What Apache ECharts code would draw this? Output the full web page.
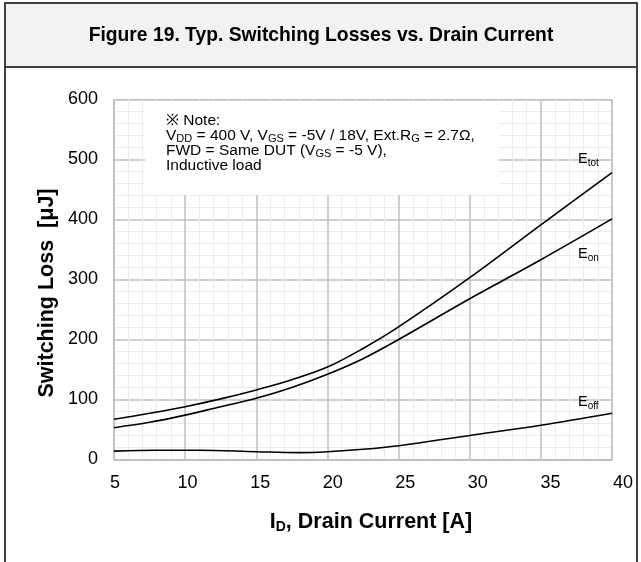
<!DOCTYPE html>
<html>
<head>
<meta charset="utf-8">
<script src="https://cdn.jsdelivr.net/npm/echarts@6/dist/echarts.min.js"></script>
<style>
  html, body { margin: 0; padding: 0; background: #ffffff; }
  #chart { width: 641px; height: 562px; }
</style>
</head>
<body>
<div id="chart"></div>
<script>
// drain current [A]
const currentTot = [5, 7.5, 10, 12.5, 15, 17.5, 20, 22.5, 25, 30, 35, 40]
const eTot = [67, 77, 88, 101, 116, 133, 154, 185, 221, 303, 391, 478]
const eOn = [53, 62, 74, 88, 102, 120, 142, 168, 200, 268, 333, 401]
const currentOff = [5, 8, 11, 15, 18, 20, 22.5, 25, 30, 35, 40]
const eOff = [14, 15.5, 15.5, 13, 11.5, 13, 17, 23, 40, 57, 77]

const xTicks = [5, 10, 15, 20, 25, 30, 35, 40]
const yTicks = [0, 100, 200, 300, 400, 500, 600]

const font = 'Liberation Sans, Arial, sans-serif'
const pairs = (xs, ys) => xs.map((x, i) => [x, ys[i]])

const lineSeries = (name, data) => ({
  name,
  type: 'line',
  data,
  smooth: 0.35,
  showSymbol: false,
  lineStyle: { color: '#000000', width: 1.6 },
  z: 3
})

const chart = echarts.init(document.getElementById('chart'))

const sub = { fontSize: 10, fontFamily: font, color: '#000', padding: [8, 0, 0, 0] }

chart.setOption({
  animation: false,
  grid: [
    { left: 114, right: 29, top: 99.5, bottom: 102.5, show: true, borderColor: '#bfbfbf', borderWidth: 1 },
    // the printed tick labels sit a little wider than the gridlines
    { left: 115, right: 18, top: 99.5, bottom: 102.5, show: false }
  ],
  xAxis: [
    {
      type: 'value',
      gridIndex: 0,
      min: xTicks[0],
      max: xTicks[xTicks.length - 1],
      interval: 5,
      axisLine: { show: true, lineStyle: { color: '#bfbfbf', width: 1.5 } },
      axisTick: { show: false },
      axisLabel: { show: false },
      splitLine: { show: true, lineStyle: { color: '#bfbfbf', width: 1.5 } },
      minorTick: { show: false, splitNumber: 5 },
      minorSplitLine: { show: true, lineStyle: { color: '#ebebeb', width: 1 } }
    },
    {
      type: 'value',
      gridIndex: 1,
      min: xTicks[0],
      max: xTicks[xTicks.length - 1],
      interval: 5,
      axisLine: { show: false },
      axisTick: { show: false },
      axisLabel: { color: '#000', fontSize: 18, fontFamily: font, margin: 15 },
      splitLine: { show: false }
    }
  ],
  yAxis: [
    {
      type: 'value',
      gridIndex: 0,
      min: yTicks[0],
      max: yTicks[yTicks.length - 1],
      interval: 100,
      axisLine: { show: true, lineStyle: { color: '#bfbfbf', width: 1.5 } },
      axisTick: { show: false },
      axisLabel: { color: '#000', fontSize: 18, fontFamily: font, margin: 16 },
      splitLine: { show: true, lineStyle: { color: '#bfbfbf', width: 1.5 } },
      minorTick: { show: false, splitNumber: 5 },
      minorSplitLine: { show: true, lineStyle: { color: '#ebebeb', width: 1 } }
    },
    { type: 'value', gridIndex: 1, show: false, min: 0, max: 600 }
  ],
  series: [
    lineSeries('Etot', pairs(currentTot, eTot)),
    lineSeries('Eon', pairs(currentTot, eOn)),
    lineSeries('Eoff', pairs(currentOff, eOff))
  ],
  graphic: [
    // outer frame and title band
    { type: 'rect', shape: { x: 5, y: 3, width: 632, height: 580 }, style: { fill: 'none', stroke: '#404040', lineWidth: 2 }, z: 10 },
    { type: 'rect', shape: { x: 5, y: 3, width: 632, height: 64 }, style: { fill: '#f2f2f2', stroke: '#404040', lineWidth: 2 }, z: 10 },
    {
      type: 'text', x: 321, y: 36, z: 11,
      style: { text: 'Figure 19. Typ. Switching Losses vs. Drain Current', fontSize: 19.3, fontWeight: 'bold', fontFamily: font, fill: '#000', align: 'center', verticalAlign: 'middle' }
    },
    // note box
    { type: 'rect', shape: { x: 145, y: 101, width: 354, height: 94 }, style: { fill: '#ffffff' }, z: 1 },
    {
      type: 'text', x: 166, y: 113, z: 2,
      style: {
        text: '{n|※ Note:}\n{n|V}{s|DD}{n| = 400 V, V}{s|GS}{n| = -5V / 18V, Ext.R}{s|G}{n| = 2.7Ω,}\n{n|FWD = Same DUT (V}{s|GS}{n| = -5 V),}\n{n|Inductive load}',
        fontSize: 15.5, fontFamily: font, fill: '#000', lineHeight: 15,
        rich: {
          n: { fontSize: 15.5, fontFamily: font, color: '#000', lineHeight: 15 },
          s: { fontSize: 11, fontFamily: font, color: '#000', lineHeight: 15, padding: [7, 0, 0, 0] }
        }
      }
    },
    // curve labels
    { type: 'text', x: 578, y: 150, z: 4, style: { text: 'E{s|tot}', fontSize: 14.5, fontFamily: font, fill: '#000', rich: { s: sub } } },
    { type: 'text', x: 578, y: 245, z: 4, style: { text: 'E{s|on}', fontSize: 14.5, fontFamily: font, fill: '#000', rich: { s: sub } } },
    { type: 'text', x: 578, y: 393, z: 4, style: { text: 'E{s|off}', fontSize: 14.5, fontFamily: font, fill: '#000', rich: { s: sub } } },
    // axis titles
    {
      type: 'text', x: 47, y: 293, rotation: Math.PI / 2, z: 4,
      style: { text: 'Switching Loss  [μJ]', fontSize: 21.5, fontWeight: 'bold', fontFamily: font, fill: '#000', align: 'center', verticalAlign: 'middle' }
    },
    {
      type: 'text', x: 371, y: 522, z: 4,
      style: {
        text: '{b|I}{bs|D}{b|, Drain Current [A]}', align: 'center', verticalAlign: 'middle',
        rich: {
          b: { fontSize: 21.5, fontWeight: 'bold', fontFamily: font, color: '#000' },
          bs: { fontSize: 14, fontWeight: 'bold', fontFamily: font, color: '#000', padding: [10, 0, 0, 0] }
        }
      }
    }
  ]
})
</script>
</body>
</html>
